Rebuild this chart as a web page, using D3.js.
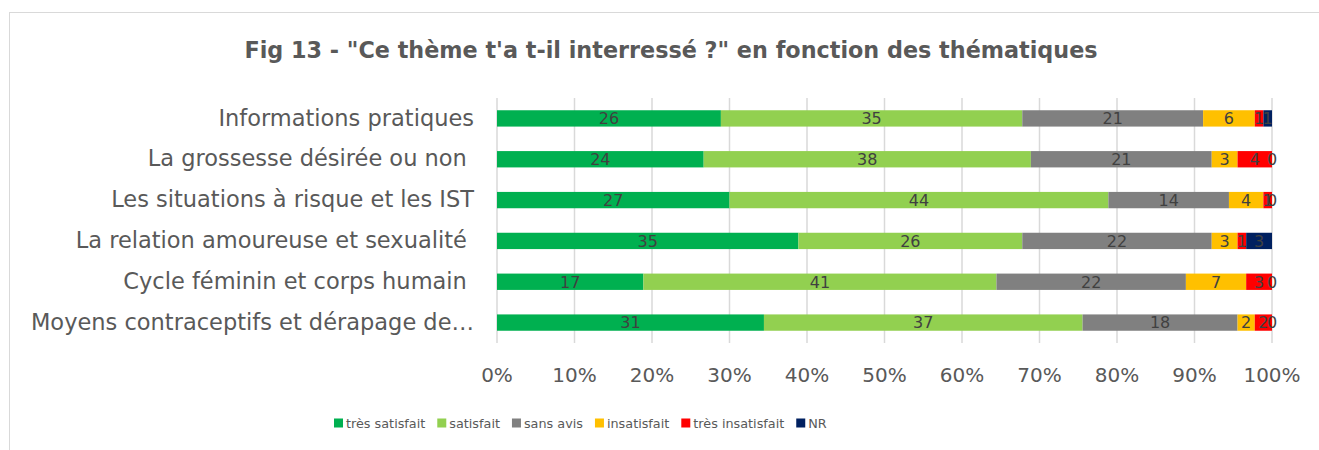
<!DOCTYPE html>
<html>
<head>
<meta charset="utf-8">
<script src="https://cdn.jsdelivr.net/npm/d3@7"></script>
<style>
  body { margin: 0; background: #fff; }
  svg { font-family: "DejaVu Sans", sans-serif; }
</style>
</head>
<body>
<div id="chart"></div>
<script>
// data
const themes = [
  "Informations pratiques",
  "La grossesse désirée ou non ",
  "Les situations à risque et les IST",
  "La relation amoureuse et sexualité ",
  "Cycle féminin et corps humain ",
  "Moyens contraceptifs et dérapage de…"
];
const series = ["très satisfait", "satisfait", "sans avis", "insatisfait", "très insatisfait", "NR"];
const colors = ["#00B050", "#92D050", "#808080", "#FFC000", "#FF0000", "#002060"];
const tresSatisfait = [26, 24, 27, 35, 17, 31];
const satisfait = [35, 38, 44, 26, 41, 37];
const sansAvis = [21, 21, 14, 22, 22, 18];
const insatisfait = [6, 3, 4, 3, 7, 2];
const tresInsatisfait = [1, 4, 1, 1, 3, 2];
const nr = [1, 0, 0, 3, 0, 0];
const tickLabels = ["0%", "10%", "20%", "30%", "40%", "50%", "60%", "70%", "80%", "90%", "100%"];

const values = [tresSatisfait, satisfait, sansAvis, insatisfait, tresInsatisfait, nr];
const rows = themes.map((t, i) => {
  let r = {theme: t};
  series.forEach((s, j) => r[s] = values[j][i]);
  return r;
});

const W = 1319, H = 450;
const svg = d3.select("#chart").append("svg")
    .attr("width", W)
    .attr("height", H);

// frame
svg.append("rect")
    .attr("x", 9.5).attr("y", 12.5)
    .attr("width", 1340).attr("height", 460)
    .attr("fill", "#fff")
    .attr("stroke", "#d9d9d9")
    .attr("stroke-width", 1);

svg.append("text")
    .attr("x", 671).attr("y", 58)
    .attr("text-anchor", "middle")
    .style("font-size", "22.3px")
    .style("font-weight", "bold")
    .attr("fill", "#595959")
    .text("Fig 13 - \"Ce thème t'a t-il interressé ?\" en fonction des thématiques");

let x = d3.scaleLinear().domain([0, 1]).range([497, 1272]);
let y = d3.scaleBand().domain(themes).range([98, 343]).paddingInner(0.6).paddingOuter(0.3);

// gridlines
svg.append("g").selectAll("line")
    .data(d3.range(0, 1.01, 0.1))
    .enter().append("line")
    .attr("x1", d => x(d)).attr("x2", d => x(d))
    .attr("y1", 98).attr("y2", 343)
    .attr("stroke", "#d9d9d9")
    .attr("stroke-width", 1.5);

// stacked bars
const stack = d3.stack().keys(series).offset(d3.stackOffsetExpand);
const layers = stack(rows);

const layer = svg.append("g").selectAll("g")
    .data(layers)
    .enter().append("g")
    .attr("fill", (d, i) => colors[i]);

layer.selectAll("rect")
    .data(d => d)
    .enter().append("rect")
    .attr("x", d => x(d[0]))
    .attr("y", d => y(d.data.theme))
    .attr("width", d => x(d[1]) - x(d[0]))
    .attr("height", y.bandwidth());

// value labels (centred on each segment, like the original, even when they touch)
layers.forEach(function(l) {
    svg.append("g").selectAll("text")
        .data(l)
        .enter().append("text")
        .attr("x", d => (x(d[0]) + x(d[1])) / 2)
        .attr("y", d => y(d.data.theme) + y.bandwidth() / 2)
        .attr("dy", "0.36em")
        .attr("text-anchor", "middle")
        .style("font-size", "16px")
        .attr("fill", "#404040")
        .text(d => d.data[l.key]);
});

// category labels
svg.append("g").selectAll("text")
    .data(themes)
    .enter().append("text")
    .attr("x", 474)
    .attr("y", d => y(d) + y.bandwidth() / 2 - 1)
    .attr("dy", "0.36em")
    .attr("text-anchor", "end")
    .attr("xml:space", "preserve")
    .style("white-space", "pre")
    .style("font-size", "22.5px")
    .attr("fill", "#595959")
    .text(d => d);

// x axis tick labels
svg.append("g").selectAll("text")
    .data(tickLabels)
    .enter().append("text")
    .attr("x", (d, i) => x(i / 10))
    .attr("y", 382)
    .attr("text-anchor", "middle")
    .style("font-size", "20px")
    .attr("fill", "#595959")
    .text(d => d);

// legend
const legend = svg.append("g").attr("transform", "translate(334,423)");
let lx = 0;
series.forEach(function(s, i) {
    let item = legend.append("g").attr("transform", `translate(${lx},0)`);
    item.append("rect")
        .attr("x", 0).attr("y", -4.5)
        .attr("width", 9).attr("height", 9)
        .attr("fill", colors[i]);
    let t = item.append("text")
        .attr("x", 12).attr("dy", "0.36em")
        .style("font-size", "12.8px")
        .attr("fill", "#595959")
        .text(s);
    lx += 12 + t.node().getComputedTextLength() + 12;
});
</script>
</body>
</html>
